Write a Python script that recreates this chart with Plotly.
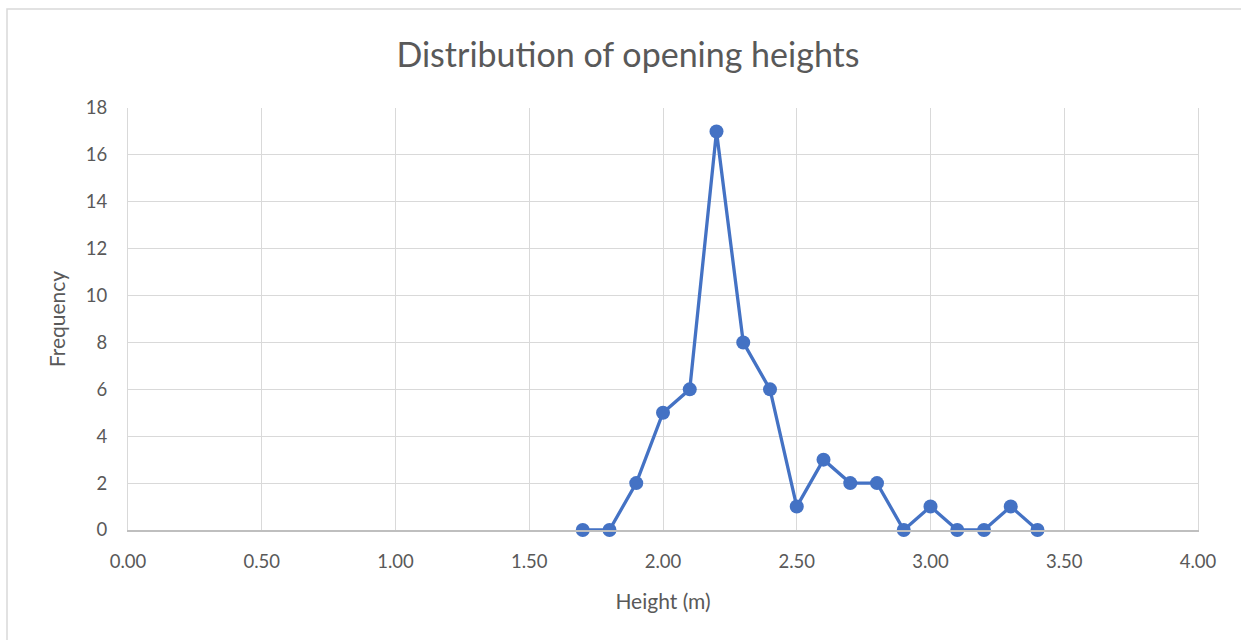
import plotly.graph_objects as go

heights = [1.7, 1.8, 1.9, 2.0, 2.1, 2.2, 2.3, 2.4, 2.5, 2.6, 2.7, 2.8, 2.9, 3.0, 3.1, 3.2, 3.3, 3.4]
frequency = [0, 0, 2, 5, 6, 17, 8, 6, 1, 3, 2, 2, 0, 1, 0, 0, 1, 0]
x_ticks = [0.0, 0.5, 1.0, 1.5, 2.0, 2.5, 3.0, 3.5, 4.0]
y_ticks = list(range(0, 19, 2))

W, H = 1241, 640
L, R, T, B = 128, 1198, 108, 530

fig = go.Figure()
fig.add_trace(go.Scatter(
    x=heights, y=frequency, mode="lines+markers",
    line=dict(color="#4472C4", width=3.3),
    marker=dict(color="#4472C4", size=14),
    showlegend=False, cliponaxis=False,
))

font = "Lato, Open Sans, sans-serif"
fig.update_layout(
    width=W, height=H,
    margin=dict(l=L, r=W - R, t=T, b=H - B),
    paper_bgcolor="white", plot_bgcolor="white",
    font=dict(family=font, color="#595959", size=18.5),
    title=dict(text="Distribution of opening heights", x=628 / W, y=1 - 55 / H,
               xanchor="center", yanchor="middle",
               font=dict(size=34, color="#595959", family=font)),
    xaxis=dict(range=[0, 4], tickvals=x_ticks, ticktext=[f"{v:.2f}" for v in x_ticks],
               showgrid=True, gridcolor="#d9d9d9", gridwidth=1,
               zeroline=False, showline=True, linecolor="#bfbfbf", linewidth=1.5,
               mirror=False, ticks="", ticklen=0, ticklabelstandoff=14,
               title=dict(text="Height (m)", font=dict(size=21, color="#595959"), standoff=23)),
    yaxis=dict(range=[0, 18], tickvals=y_ticks, showgrid=True, gridcolor="#d9d9d9",
               gridwidth=1, zeroline=False, showline=True, linecolor="#d9d9d9", mirror=True,
               ticks="", ticklabelstandoff=16,
               title=dict(text="Frequency", font=dict(size=21, color="#595959"), standoff=14)),
)
fig.add_shape(type="rect", xref="paper", yref="paper",
              x0=(7 - L) / (R - L), x1=(1250 - L) / (R - L),
              y0=(B - 650) / (B - T), y1=(B - 9) / (B - T),
              line=dict(color="#d9d9d9", width=1.5), fillcolor="rgba(0,0,0,0)", layer="below")
fig.write_html("out.html")
